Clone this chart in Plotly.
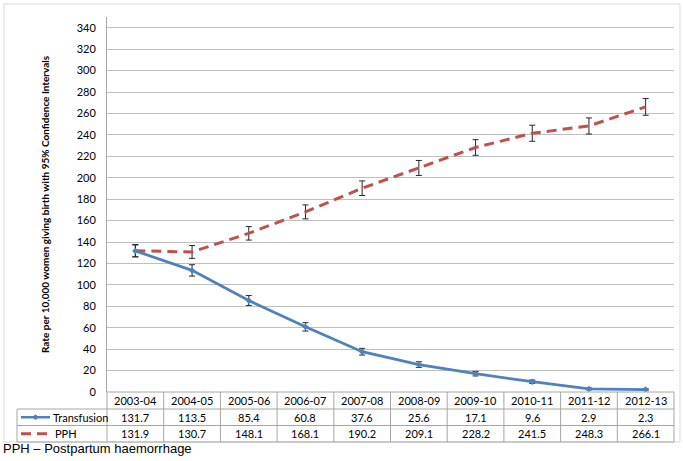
import plotly.graph_objects as go

categories = ["2003-04", "2004-05", "2005-06", "2006-07", "2007-08",
              "2008-09", "2009-10", "2010-11", "2011-12", "2012-13"]
transfusion = [131.7, 113.5, 85.4, 60.8, 37.6, 25.6, 17.1, 9.6, 2.9, 2.3]
transfusion_ci = [5.5, 5.3, 4.6, 3.9, 3.1, 2.6, 2.1, 1.6, 0.9, 0.8]
pph = [131.9, 130.7, 148.1, 168.1, 190.2, 209.1, 228.2, 241.5, 248.3, 266.1]
pph_ci = [5.8, 6.0, 6.3, 6.5, 6.8, 7.0, 7.3, 7.5, 7.5, 7.8]
y_ticks = list(range(0, 341, 20))
series_names = ["Transfusion", "PPH"]

W, H = 683, 461
L, R, T, B = 107, 9, 17, 69
PW, PH = W - L - R, H - T - B
BLUE = "#4F81BD"
RED = "#C0504D"
GRID = "#BFBFBF"
TLINE = "#A6A6A6"
FONT = "Lato"


def px(xp):
    return (xp - L) / PW


def py(yp):
    return (H - B - yp) / PH


fig = go.Figure()
fig.add_trace(go.Scatter(
    x=categories, y=pph, name=series_names[1], mode="lines",
    line=dict(color=RED, width=3, dash="10px,6px"),
    error_y=dict(type="data", array=pph_ci, color="#262626", thickness=1, width=3),
))
fig.add_trace(go.Scatter(
    x=categories, y=transfusion, name=series_names[0], mode="lines+markers",
    line=dict(color=BLUE, width=2.75),
    marker=dict(symbol="diamond", size=5, color=BLUE),
    error_y=dict(type="data", array=transfusion_ci, color="#262626", thickness=1, width=3),
))

shapes = []
# outer chart border
shapes.append(dict(type="rect", xref="paper", yref="paper",
                   x0=px(4), x1=px(680), y0=py(442), y1=py(4),
                   line=dict(color="#D9D9D9", width=1), layer="below"))
# table rows
row_y = [392, 409, 425.5, 442]
for i, yy in enumerate(row_y):
    x0 = px(107) if i == 0 else px(17)
    shapes.append(dict(type="line", xref="paper", yref="paper",
                       x0=x0, x1=1, y0=py(yy), y1=py(yy),
                       line=dict(color=TLINE, width=1)))
# table verticals
shapes.append(dict(type="line", xref="paper", yref="paper",
                   x0=px(17), x1=px(17), y0=py(409), y1=py(442),
                   line=dict(color=TLINE, width=1)))
for k in range(len(categories) + 1):
    xv = px(107 + k * PW / len(categories))
    shapes.append(dict(type="line", xref="paper", yref="paper",
                       x0=xv, x1=xv, y0=py(392), y1=py(442),
                       line=dict(color=TLINE, width=1)))
# legend keys inside table
ky1 = py((409 + 425.5) / 2)
ky2 = py((425.5 + 442) / 2)
shapes.append(dict(type="line", xref="paper", yref="paper",
                   x0=px(21), x1=px(50), y0=ky1, y1=ky1,
                   line=dict(color=BLUE, width=2.5)))
cx = px(35.5)
dx = 2.5 / PW
dy = 2.5 / PH
shapes.append(dict(type="path", xref="paper", yref="paper",
                   path=f"M {cx - dx} {ky1} L {cx} {ky1 + dy} L {cx + dx} {ky1} L {cx} {ky1 - dy} Z",
                   fillcolor=BLUE, line=dict(color=BLUE, width=1)))
shapes.append(dict(type="line", xref="paper", yref="paper",
                   x0=px(21), x1=px(48), y0=ky2, y1=ky2,
                   line=dict(color=RED, width=3, dash="10px,6px")))

annotations = []
tfont = dict(family=FONT, size=11, color="#000000")
hy = py((392 + 409) / 2)
for i, c in enumerate(categories):
    for yv, txt in ((hy, c), (ky1, f"{transfusion[i]:.1f}"), (ky2, f"{pph[i]:.1f}")):
        annotations.append(dict(x=c, y=yv, xref="x", yref="paper", text=txt, showarrow=False,
                                xanchor="center", yanchor="middle", font=tfont))
annotations.append(dict(x=px(51), y=ky1, xref="paper", yref="paper", text=series_names[0],
                        xanchor="left", yanchor="middle", showarrow=False, font=tfont))
annotations.append(dict(x=px(53), y=ky2, xref="paper", yref="paper", text=series_names[1],
                        xanchor="left", yanchor="middle", showarrow=False, font=tfont))
annotations.append(dict(x=px(45), y=py(204), xref="paper", yref="paper",
                        text="<b>Rate per 10,000 women giving birth with 95% Confidence Intervals</b>",
                        textangle=-90, showarrow=False, xanchor="center", yanchor="middle",
                        font=dict(family=FONT, size=10, color="#000000")))
annotations.append(dict(x=px(1), y=py(449), xref="paper", yref="paper",
                        text="PPH – Postpartum haemorrhage", xanchor="left", yanchor="middle",
                        showarrow=False,
                        font=dict(family="Liberation Sans", size=13, color="#000000")))

fig.update_layout(
    template="none",
    width=W, height=H,
    margin=dict(l=L, r=R, t=T, b=B, pad=0, autoexpand=False),
    paper_bgcolor="white", plot_bgcolor="white",
    showlegend=False,
    shapes=shapes,
    annotations=annotations,
    xaxis=dict(type="category", categoryorder="array", categoryarray=categories,
               range=[-0.5, len(categories) - 0.5], showticklabels=False,
               showgrid=False, zeroline=False, showline=False, ticks="", automargin=False),
    yaxis=dict(range=[0, 350], tickvals=y_ticks, ticktext=[str(v) for v in y_ticks],
               showgrid=True, gridcolor=GRID, gridwidth=1, zeroline=False,
               showline=True, linecolor=TLINE, linewidth=1, ticks="", automargin=False,
               ticklabelstandoff=8,
               tickfont=dict(family=FONT, size=11, color="#000000")),
)

fig.write_html(
    "out.html",
    config={"displayModeBar": False},
    post_script="document.body.style.margin='0';document.body.style.padding='0';",
)
